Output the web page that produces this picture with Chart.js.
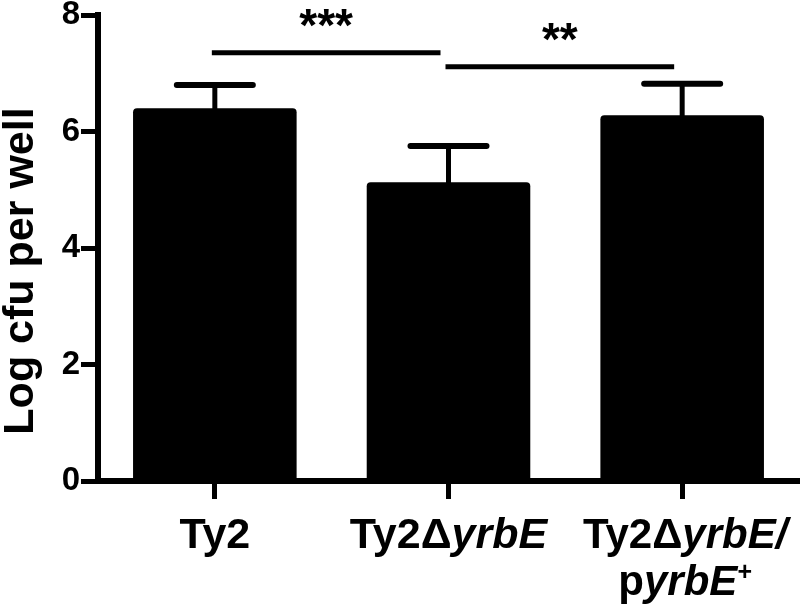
<!DOCTYPE html>
<html>
<head>
<meta charset="utf-8">
<script src="https://cdn.jsdelivr.net/npm/chart.js@4.4.1/dist/chart.umd.min.js"></script>
<style>
html, body { margin: 0; padding: 0; background: #fff; }
#wrap { width: 800px; height: 607px; }
</style>
</head>
<body>
<div id="wrap"><canvas id="chart"></canvas></div>
<script>
"use strict";

const categories = ["Ty2", "Ty2ΔyrbE", "Ty2ΔyrbE/pyrbE+"];
const meanLogCfu = [6.40, 5.13, 6.28];
const semLogCfu = [0.40, 0.62, 0.54];
const yTicks = [0, 2, 4, 6, 8];
const yTitle = "Log cfu per well";
// significance brackets
const sigFrom = [0, 1];
const sigTo = [1, 2];
const sigHeight = [7.35, 7.11];
const sigStars = ["***", "**"];
// category labels, split in lines of [text, italic, superscript] parts
const labelLines = [
	[[["Ty2", false]]],
	[[["Ty2Δ", false], ["yrbE", true]]],
	[[["Ty2Δ", false], ["yrbE/", true]], [["p", false], ["yrbE", true], ["+", false, true]]]
];

const fontFamily = "\"Liberation Sans\", Arial, Helvetica, sans-serif";

const drawParts = (ctx, parts, centerX, baseline, size) => {
	const fontFor = part => `${part[1] ? "italic " : ""}bold ${part[2] ? Math.round(size * 0.6) : size}px ${fontFamily}`;
	let total = 0;
	for (let part of parts) {
		ctx.font = fontFor(part);
		total += ctx.measureText(part[0]).width;
	}
	let x = centerX - total / 2;
	for (let part of parts) {
		ctx.font = fontFor(part);
		ctx.fillText(part[0], x, part[2] ? baseline - size * 0.36 : baseline);
		x += ctx.measureText(part[0]).width;
	}
};

const errorBarPlugin = {
	id: "errorBars",
	afterDatasetsDraw: chart => {
		let ctx = chart.ctx;
		let yScale = chart.scales.y;
		ctx.save();
		ctx.strokeStyle = "#000";
		chart.getDatasetMeta(0).data.forEach((bar, index) => {
			let top = yScale.getPixelForValue(meanLogCfu[index] + semLogCfu[index]);
			ctx.lineWidth = 5;
			ctx.lineCap = "butt";
			ctx.beginPath();
			ctx.moveTo(bar.x, bar.y + 2);
			ctx.lineTo(bar.x, top);
			ctx.stroke();
			ctx.lineWidth = 6;
			ctx.lineCap = "round";
			ctx.beginPath();
			ctx.moveTo(bar.x - 38, top);
			ctx.lineTo(bar.x + 38, top);
			ctx.stroke();
		});
		ctx.restore();
	}
};

const annotationPlugin = {
	id: "annotations",
	afterDraw: chart => {
		let ctx = chart.ctx;
		let xScale = chart.scales.x;
		let yScale = chart.scales.y;
		ctx.save();
		ctx.fillStyle = "#000";
		ctx.strokeStyle = "#000";
		// significance lines and stars
		for (let index = 0; index < sigFrom.length; index++) {
			let x1 = xScale.getPixelForValue(sigFrom[index]) - 3;
			let x2 = xScale.getPixelForValue(sigTo[index]) - 8;
			let y = yScale.getPixelForValue(sigHeight[index]);
			ctx.lineWidth = 5;
			ctx.lineCap = "butt";
			ctx.beginPath();
			ctx.moveTo(x1, y);
			ctx.lineTo(x2, y);
			ctx.stroke();
			ctx.font = `bold 46px ${fontFamily}`;
			ctx.textAlign = "center";
			ctx.textBaseline = "alphabetic";
			ctx.fillText(sigStars[index], (x1 + x2) / 2, y - 12);
		}
		// category labels with italic gene names
		ctx.textAlign = "left";
		labelLines.forEach((lines, index) => {
			let centerX = xScale.getPixelForValue(index);
			let size = lines.length > 1 ? 42 : 43;
			lines.forEach((parts, lineIndex) => {
				drawParts(ctx, parts, centerX + (lines.length > 1 ? 3 : 0), yScale.bottom + 67 + lineIndex * 47, size);
			});
		});
		// y axis title
		ctx.translate(33, (yScale.top + yScale.bottom) / 2 + 23);
		ctx.rotate(-Math.PI / 2);
		ctx.textAlign = "center";
		ctx.font = `bold 43px ${fontFamily}`;
		ctx.fillText(yTitle, 0, 0);
		ctx.restore();
	}
};

new Chart(document.querySelector("canvas#chart"), {
	type: "bar",
	data: {
		labels: categories,
		datasets: [{
			data: meanLogCfu,
			backgroundColor: "#000",
			barPercentage: 0.7,
			categoryPercentage: 1,
			borderRadius: 4
		}]
	},
	options: {
		responsive: true,
		maintainAspectRatio: false,
		animation: false,
		layout: {
			padding: { top: 15, right: 1, left: 0, bottom: 0 }
		},
		scales: {
			x: {
				grid: { offset: false, drawOnChartArea: false, tickLength: 18, lineWidth: 5, color: "#000" },
				border: { width: 6, color: "#000" },
				ticks: { display: false },
				afterFit: scale => { scale.height = 126; }
			},
			y: {
				min: 0,
				max: 8,
				afterBuildTicks: scale => { scale.ticks = yTicks.map(value => ({ value: value })); },
				grid: { drawOnChartArea: false, tickLength: 17, lineWidth: 5, color: "#000" },
				border: { width: 6, color: "#000" },
				ticks: {
					color: "#000",
					padding: 1,
					font: { family: fontFamily, size: 33, weight: "bold", lineHeight: 1 }
				},
				afterFit: scale => {
					scale.width = 98;
					scale.paddingTop = 0;
					scale.paddingBottom = 0;
				}
			}
		},
		plugins: {
			legend: { display: false },
			tooltip: { enabled: false }
		}
	},
	plugins: [errorBarPlugin, annotationPlugin]
});
</script>
</body>
</html>
